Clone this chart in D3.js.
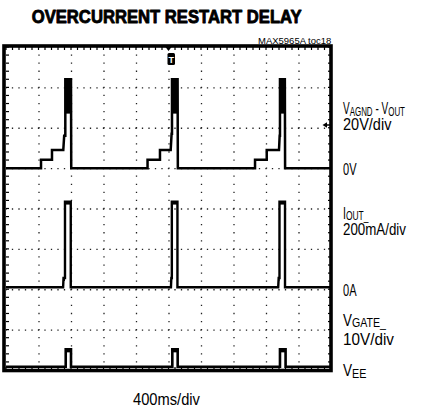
<!DOCTYPE html>
<html><head><meta charset="utf-8">
<script src="https://cdn.jsdelivr.net/npm/d3@7"></script>
<style>body{margin:0;background:#fff}svg{display:block}</style>
</head><body>
<script>
// ---- data ----
const timeDivs = [0, 400, 800, 1200, 1600, 2000, 2400, 2800, 3200, 3600, 4000]; // ms
const vertDivs = [-4, -3, -2, -1, 0, 1, 2, 3, 4];

// Channel 1: VAGND - VOUT (volts), 20V/div
const ch1Time = [0, 431, 431, 566, 566, 705, 716, 730, 730, 800, 803,
                 1742, 1742, 1895, 1895, 2027, 2038, 2043, 2043, 2112, 2115,
                 3065, 3065, 3209, 3209, 3360, 3368, 3372, 3372, 3432, 3435, 4000];
const ch1Volt = [0, 0, 4.1, 4.1, 9, 9, 16, 16, 44, 44, 0,
                 0, 4.1, 4.1, 9, 9, 17, 17, 44, 44, 0,
                 0, 4.1, 4.1, 9, 9, 16, 16, 44, 44, 0, 0];
// oscillation bursts at the top of each spike
const burstStart = [730, 2043, 3372];
const burstEnd   = [792, 2106, 3426];
const burstLow   = [27, 27, 27];
const burstHigh  = [44, 44, 44];

// Channel 2: IOUT (mA), 200mA/div
const ch2Time = [0, 703, 708, 726, 726, 797, 797,
                 2030, 2035, 2041, 2041, 2110, 2110,
                 3350, 3356, 3366, 3366, 3434, 3434, 4000];
const ch2Amp  = [0, 0, 46, 46, 424, 424, 0,
                 0, 46, 46, 424, 424, 0,
                 0, 46, 46, 424, 424, 0, 0];

// Channel 3: VGATE (volts), 10V/div
const ch3Time = [0, 735, 735, 800, 800, 2047, 2047, 2113, 2113, 3372, 3372, 3441, 3441, 4000];
const ch3Volt = [0, 0, 4.3, 4.3, 0, 0, 4.3, 4.3, 0, 0, 4.3, 4.3, 0, 0];

const ch1Scale = 20, ch1Offset = 1.0;
const ch2Scale = 200, ch2Offset = -1.95;
const ch3Scale = 10, ch3Offset = -3.92;

// ---- drawing ----
const W = 433, H = 411;
const X0 = 6, X1 = 331, Y0 = 47, Y1 = 370;
const svg = d3.select("body").append("svg").attr("width", W).attr("height", H);
const xs = d3.scaleLinear().domain([0, 4000]).range([X0, X1]);
const ys = d3.scaleLinear().domain([-4, 4]).range([Y1, Y0]);
const FONT = "'Liberation Sans Narrow','Arial Narrow','Liberation Sans',Arial,sans-serif";

// grid (dotted)
const minorX = (X1 - X0) / 50, minorY = (Y1 - Y0) / 40;
const gx = svg.append("g").attr("transform", `translate(0,${Y1})`)
  .call(d3.axisBottom(xs).tickValues(timeDivs.slice(1, -1)).tickSize(-(Y1 - Y0)).tickFormat(""));
gx.select(".domain").remove();
gx.selectAll("line").attr("stroke", "#222").attr("stroke-width", 1.3)
  .attr("stroke-dasharray", `1.3 ${minorY - 1.3}`).attr("stroke-dashoffset", 0.65);
const gy = svg.append("g").attr("transform", `translate(${X0},0)`)
  .call(d3.axisLeft(ys).tickValues(vertDivs.slice(1, -1)).tickSize(-(X1 - X0)).tickFormat(""));
gy.select(".domain").remove();
gy.selectAll("line").attr("stroke", "#222").attr("stroke-width", 1.3)
  .attr("stroke-dasharray", `1.3 ${minorX - 1.3}`).attr("stroke-dashoffset", 0.65);

// border minor ticks
const minorT = d3.range(0, 4001, 80), minorV = d3.range(-4, 4.001, 0.2);
const bt = svg.append("g").attr("stroke", "#000").attr("stroke-width", 1.2);
minorT.forEach(t => {
  bt.append("line").attr("x1", xs(t)).attr("x2", xs(t)).attr("y1", Y0).attr("y2", Y0 + 3);
  bt.append("line").attr("x1", xs(t)).attr("x2", xs(t)).attr("y1", Y1).attr("y2", Y1 - 3);
});
minorV.forEach(v => {
  bt.append("line").attr("y1", ys(v)).attr("y2", ys(v)).attr("x1", X0).attr("x2", X0 + 3);
  bt.append("line").attr("y1", ys(v)).attr("y2", ys(v)).attr("x1", X1).attr("x2", X1 - 3);
});

// traces
const line = d3.line().x(d => xs(d[0])).y(d => ys(d[1]));
function trace(times, vals, scale, off, sw) {
  const pts = times.map((t, i) => [t, off + vals[i] / scale]);
  svg.append("path").attr("d", line(pts)).attr("fill", "none")
    .attr("stroke", "#000").attr("stroke-width", sw).attr("stroke-linejoin", "miter");
  return pts;
}
const p1 = trace(ch1Time, ch1Volt, ch1Scale, ch1Offset, 2.5);
burstStart.forEach((t, i) => {
  svg.append("rect").attr("x", xs(t)).attr("width", xs(burstEnd[i]) - xs(t))
    .attr("y", ys(ch1Offset + burstHigh[i] / ch1Scale))
    .attr("height", ys(ch1Offset + burstLow[i] / ch1Scale) - ys(ch1Offset + burstHigh[i] / ch1Scale))
    .attr("fill", "#000");
});
const p2 = trace(ch2Time, ch2Amp, ch2Scale, ch2Offset, 2.4);
const p3 = trace(ch3Time, ch3Volt, ch3Scale, ch3Offset, 2.6);
// thick caps on pulse tops
[[p2, ch2Offset], [p3, ch3Offset]].forEach(([pts, off]) => {
  for (let i = 0; i < pts.length - 1; i++) {
    if (pts[i][1] === pts[i + 1][1] && pts[i][1] > off + 0.1) {
      svg.append("line").attr("x1", xs(pts[i][0])).attr("x2", xs(pts[i + 1][0]))
        .attr("y1", ys(pts[i][1]) + 1.2).attr("y2", ys(pts[i][1]) + 1.2)
        .attr("stroke", "#000").attr("stroke-width", 3.5);
    }
  }
});

// frame
svg.append("rect").attr("x", 4).attr("y", 46).attr("width", 327).attr("height", 324.5)
  .attr("fill", "none").attr("stroke", "#000").attr("stroke-width", 3.6);

// trigger markers
svg.append("path").attr("d", "M165.5,47 L171.5,47 L168.5,51 Z").attr("fill", "#000");
svg.append("rect").attr("x", 167.5).attr("y", 53).attr("width", 7.5).attr("height", 12)
  .attr("rx", 1.5).attr("fill", "#000");
svg.append("text").attr("x", 171.25).attr("y", 63).attr("text-anchor", "middle")
  .attr("font-family", "Liberation Sans,Arial,sans-serif").attr("font-weight", "bold")
  .attr("font-size", 9).attr("fill", "#fff").text("T");
svg.append("path").attr("d", "M322.5,125 L327,122.3 L327,127.7 Z").attr("fill", "#000");
svg.append("line").attr("x1", 326).attr("x2", 330).attr("y1", 125).attr("y2", 125)
  .attr("stroke", "#000").attr("stroke-width", 1.5);

// condensed text block: parts [text, isSub], placed at (x,y), squeezed to targetW
function condensed(x, y, parts, targetW, opts = {}) {
  const g = svg.append("g");
  const size = opts.size || 17, subSize = opts.subSize || 13.5;
  let cx = 0;
  parts.forEach(([txt, sub]) => {
    const t = g.append("text").attr("x", cx).attr("y", sub ? 1.5 : 0)
      .attr("font-family", FONT).attr("font-size", sub ? subSize : size).attr("fill", "#000")
      .attr("xml:space", "preserve").style("white-space", "pre").text(txt);
    if (opts.bold) t.attr("font-weight", "bold").attr("stroke", "#000")
      .attr("stroke-width", opts.stroke || 0).attr("stroke-linejoin", "round");
    cx += t.node().getComputedTextLength();
  });
  g.attr("transform", `translate(${x},${y}) scale(${targetW / cx},1)`);
}

condensed(31.7, 22.7, [["OVERCURRENT RESTART DELAY", false]], 270, {size: 19, bold: true, stroke: 0.9});
condensed(258, 43.5, [["MAX5965A toc18", false]], 73.5, {size: 8.5});
condensed(133, 404.5, [["400ms/div", false]], 67);

condensed(343, 114, [["V", false], ["AGND", true], [" - V", false], ["OUT", true]], 62);
condensed(343, 130, [["20V/div", false]], 48.5);
condensed(343, 175, [["0V", false]], 13.5);
condensed(343, 218.5, [["I", false], ["OUT_", true]], 25.5);
condensed(343, 235, [["200mA/div", false]], 63);
condensed(343, 295.5, [["0A", false]], 13.5);
condensed(343, 325.5, [["V", false], ["GATE_", true]], 43);
condensed(343, 345, [["10V/div", false]], 51);
condensed(343, 376, [["V", false], ["EE", true]], 23.5);
</script>
</body></html>
